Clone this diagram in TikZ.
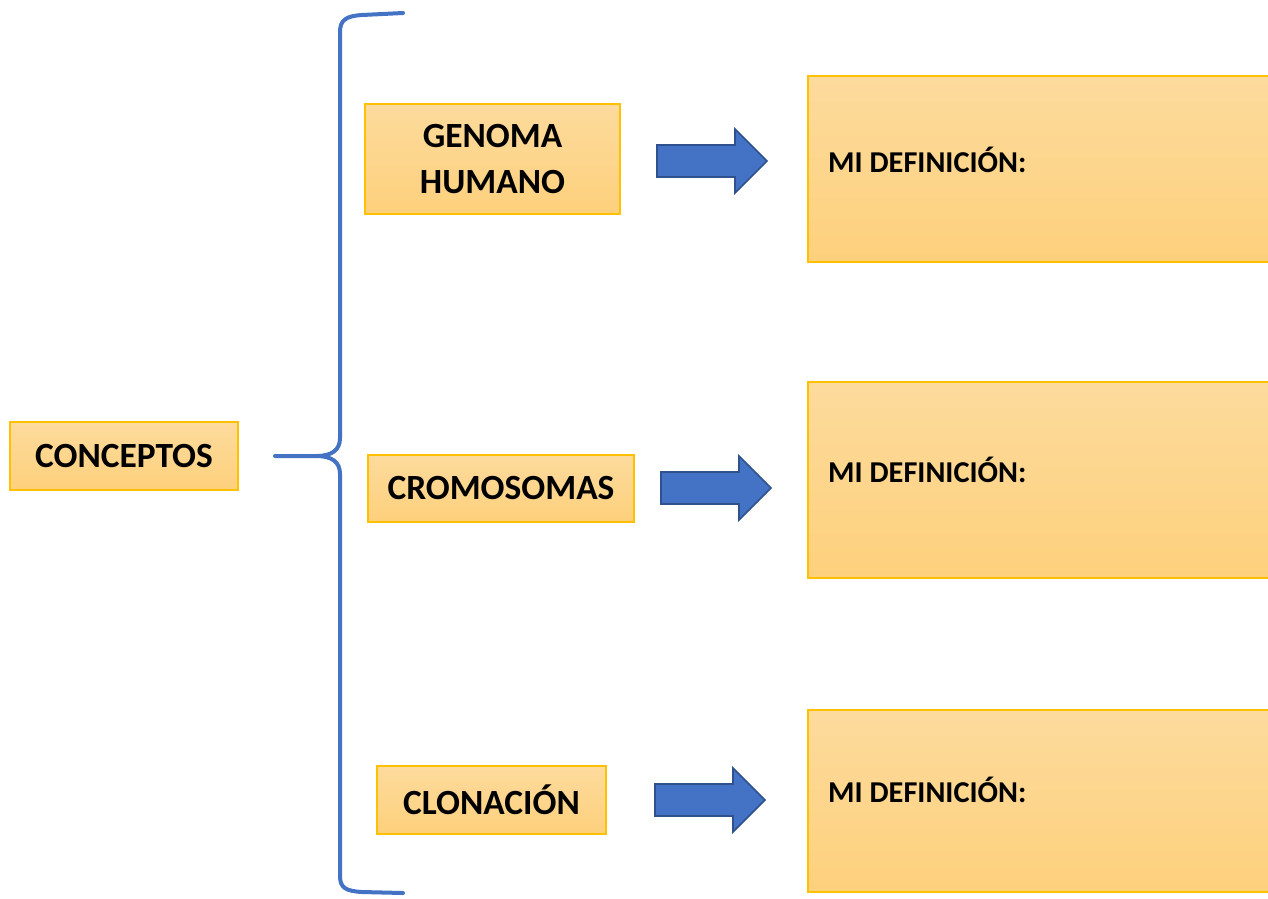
\documentclass[tikz,border=0pt]{standalone}
\usepackage{fontspec}
\setmainfont{Carlito}
\definecolor{boxtop}{HTML}{FDDB9D}
\definecolor{boxbot}{HTML}{FDD07C}
\definecolor{boxline}{HTML}{FFC000}
\definecolor{bracecol}{HTML}{4472C4}
\definecolor{arrowfill}{HTML}{4472C4}
\definecolor{arrowline}{HTML}{2F528F}
\tikzset{
  conceptbox/.style={draw=boxline, line width=1.6pt, top color=boxtop, bottom color=boxbot,
    inner sep=0pt, outer sep=0pt, align=center,
    font=\fontsize{35.4}{46}\selectfont\bfseries},
  defbox/.style={draw=boxline, line width=1.6pt, top color=boxtop, bottom color=boxbot,
    inner sep=0pt, outer sep=0pt, anchor=north west},
  deftext/.style={anchor=west, inner sep=0pt, font=\fontsize{30.3}{36}\selectfont\bfseries},
  blockarrow/.style={draw=arrowline, fill=arrowfill, line width=1.6pt, line join=miter},
  bracepath/.style={draw=bracecol, line width=4pt, line cap=round, line join=round}
}
\begin{document}
\begin{tikzpicture}[x=1pt, y=-1pt]
\clip (0,0) rectangle (1268,898);
\fill[white] (0,0) rectangle (1268,898);

% left concept box
\node[conceptbox, minimum width=228pt, minimum height=68pt] (conc) at (124,456) {CONCEPTOS};

% the three concept boxes
\node[conceptbox, minimum width=255pt, minimum height=110pt] (gen) at (492.5,159) {GENOMA\\HUMANO};
\node[conceptbox, minimum width=266pt, minimum height=67pt] (cro) at (501,488.5) {CROMOSOMAS};
\node[conceptbox, minimum width=229pt, minimum height=68pt] (clo) at (491.5,800) {CLONACIÓN};

% definition boxes, running off the right edge
\node[defbox, minimum width=480pt, minimum height=186pt] (d1) at (808,76) {};
\node[defbox, minimum width=480pt, minimum height=196pt] (d2) at (808,382) {};
\node[defbox, minimum width=480pt, minimum height=182pt] (d3) at (808,710) {};
\node[deftext] (t1) at (828,160) {MI DEFINICIÓN:};
\node[deftext] (t2) at (828,470) {MI DEFINICIÓN:};
\node[deftext] (t3) at (828,790) {MI DEFINICIÓN:};

% block arrows: each starts at the tail of its shaft
\coordinate (a1) at (657,161);
\coordinate (a2) at (661,488);
\coordinate (a3) at (655,800);
\foreach \a in {a1,a2,a3}
  \draw[blockarrow] (\a) ++(0,-16) -- ++(78,0) -- ++(0,-16) -- ++(32,32)
    -- ++(-32,32) -- ++(0,-16) -- ++(-78,0) -- cycle;

% curly brace
\coordinate (btip) at (275,456);
\coordinate (btop) at (403,13);
\coordinate (bbot) at (403,893);
\draw[bracepath] (btop) -- (362,15)
  .. controls (346,16) and (340,20) .. (340,32)
  -- (340,438)
  .. controls (340,450) and (332,456) .. (316,456)
  -- (btip);
\draw[bracepath] (316,456)
  .. controls (332,456) and (340,462) .. (340,474)
  -- (340,876)
  .. controls (340,888) and (346,891) .. (362,892)
  -- (bbot);
\end{tikzpicture}
\end{document}
